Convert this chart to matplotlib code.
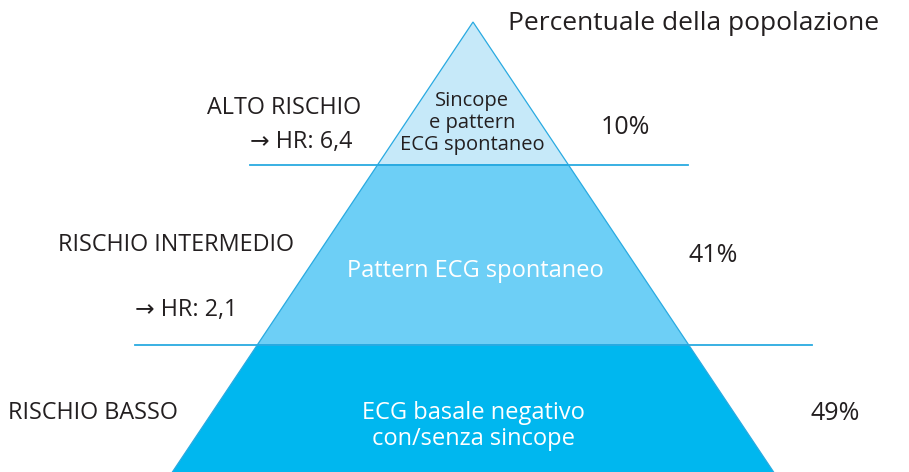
import matplotlib
matplotlib.use("Agg")
import matplotlib.pyplot as plt
from matplotlib.patches import Polygon

plt.rcParams['font.family'] = ['Open Sans', 'DejaVu Sans']

risk_levels = ["ALTO RISCHIO", "RISCHIO INTERMEDIO", "RISCHIO BASSO"]
hazard_ratios = ["→ HR: 6,4", "→ HR: 2,1", None]
band_labels = ["Sincope\ne pattern\nECG spontaneo", "Pattern ECG spontaneo",
               "ECG basale negativo\ncon/senza sincope"]
population_pct = [10, 41, 49]
title = "Percentuale della popolazione"

W, H = 909, 472
fig = plt.figure(figsize=(W / 100, H / 100), dpi=100)
ax = fig.add_axes([0, 0, 1, 1])
ax.set_xlim(0, W)
ax.set_ylim(H, 0)
ax.axis('off')

apex_x, apex_y = 473, 22
slope = 0.668  # half-width per pixel of height
bounds = [apex_y, 165, 345, H + 5]
fills = ['#c6e9f9', '#6dcff6', '#00b7ef']
edge = '#29aae1'

def hw(y):
    return (y - apex_y) * slope

for i in range(3):
    y0, y1 = bounds[i], bounds[i + 1]
    pts = [(apex_x - hw(y0), y0), (apex_x + hw(y0), y0),
           (apex_x + hw(y1), y1), (apex_x - hw(y1), y1)]
    ax.add_patch(Polygon(pts, closed=True, facecolor=fills[i],
                         edgecolor=edge, linewidth=0.9, zorder=1))

# separator lines
ax.plot([250, 688], [165, 165], color=edge, lw=1.3, zorder=2)
ax.plot([135, 812], [345, 345], color=edge, lw=1.3, zorder=2)

tc = '#231f20'
ax.text(508, 24, title, fontsize=19, color=tc, ha='left', va='center')

# left labels
lf = 16.8
ax.text(207, 108, risk_levels[0], fontsize=lf, color=tc, ha='left', va='center')
ax.text(353, 142, hazard_ratios[0], fontsize=lf, color=tc, ha='right', va='center')
ax.text(58, 245, risk_levels[1], fontsize=lf, color=tc, ha='left', va='center')
ax.text(135, 310, hazard_ratios[1], fontsize=lf, color=tc, ha='left', va='center')
ax.text(8, 413, risk_levels[2], fontsize=lf, color=tc, ha='left', va='center')

# band labels
ax.text(472, 123, band_labels[0], fontsize=14.5, color=tc, ha='center', va='center',
        linespacing=1.12)
ax.text(475, 271, band_labels[1], fontsize=17, color='white', ha='center', va='center')
ax.text(473, 426, band_labels[2], fontsize=17, color='white', ha='center', va='center',
        linespacing=1.1)

# percentages
pct_pos = [(625, 127), (713, 256), (835, 414)]
for (x, y), p in zip(pct_pos, population_pct):
    ax.text(x, y, f"{p}%", fontsize=18, color=tc, ha='center', va='center')

fig.savefig('out.png', dpi=100)
